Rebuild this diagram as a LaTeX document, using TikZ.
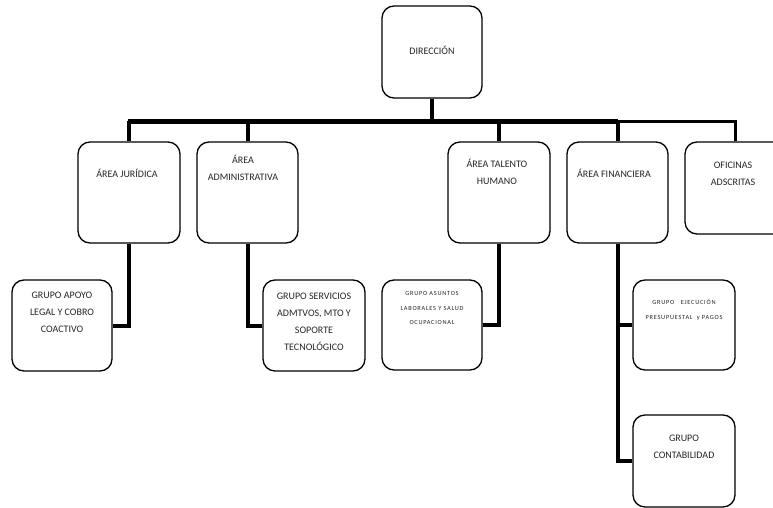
\documentclass[tikz,border=0pt]{standalone}
\usepackage{fontspec}
\setmainfont{Carlito}
\usetikzlibrary{calc}
\begin{document}
\begin{tikzpicture}[x=1pt,y=-1pt,
  box/.style={draw=black,line width=1.3pt,rounded corners=12pt,fill=white,inner sep=0pt},
  txt/.style={text=black!85,align=center,inner sep=0pt,font=\fontsize{10}{17}\selectfont},
  small/.style={text=black!85,align=center,inner sep=0pt,font=\fontsize{6.3}{14.5}\selectfont\addfontfeatures{LetterSpace=12}},
  conn/.style={draw=black,line width=4pt},
  busthick/.style={draw=black,line width=5pt},
  busthin/.style={draw=black,line width=3.5pt}]
\useasboundingbox (0,0) rectangle (773,508);
\clip (0,0) rectangle (773,508);
% coordinates of the bus
\coordinate (busL) at (128,121.5);
\coordinate (busM) at (618,121.5);
\coordinate (busR) at (737,121.5);
% boxes
\node[box,minimum width=100pt,minimum height=92pt] (dir) at (432,52) {};
\node[box,minimum width=102pt,minimum height=101pt] (jur) at (129,192.5) {};
\node[box,minimum width=101pt,minimum height=101pt] (adm) at (247.5,192.5) {};
\node[box,minimum width=102pt,minimum height=101pt] (tal) at (499,192.5) {};
\node[box,minimum width=101pt,minimum height=101pt] (fin) at (617.5,192.5) {};
\node[box,minimum width=101pt,minimum height=92pt] (ofi) at (735.5,188) {};
\node[box,minimum width=100pt,minimum height=91pt] (apo) at (62,325.5) {};
\node[box,minimum width=102pt,minimum height=91pt] (ser) at (314,325.5) {};
\node[box,minimum width=100pt,minimum height=90pt] (asu) at (432,325) {};
\node[box,minimum width=102pt,minimum height=90pt] (eje) at (684,325) {};
\node[box,minimum width=102pt,minimum height=92pt] (con) at (684,461) {};
% texts
\node[txt] (tdir) at (432,50) {DIRECCIÓN};
\node[txt] (tjur) at (127,173) {ÁREA JURÍDICA};
\node[txt] (tadm) at (243,168) {ÁREA\\ADMINISTRATIVA};
\node[txt] (ttal) at (497,171.5) {ÁREA TALENTO\\HUMANO};
\node[txt] (tfin) at (614,173) {ÁREA FINANCIERA};
\node[txt] (tofi) at (733,173.5) {OFICINAS\\ADSCRITAS};
\node[txt] (tapo) at (62,312) {GRUPO APOYO\\LEGAL Y COBRO\\COACTIVO};
\node[txt] (tser) at (314,321.5) {GRUPO SERVICIOS\\ADMTVOS, MTO Y\\SOPORTE\\TECNOLÓGICO};
\node[small] (tasu) at (432,308) {GRUPO ASUNTOS\\LABORALES Y SALUD\\OCUPACIONAL};
\node[small] (teje) at (684,310) {GRUPO \ \ EJECUCIÓN\\PRESUPUESTAL \ y PAGOS};
\node[txt] (tcon) at (684,446.5) {GRUPO\\CONTABILIDAD};
% bus
\draw[busthin] (busM) -- (busR);
\draw[busthick] (busL) -- (busM);
% connectors
\draw[conn] (dir.south) -- (dir.south |- busL);
\draw[conn] (jur.north) -- (jur.north |- busL);
\draw[conn] (adm.north) -- (adm.north |- busL);
\draw[conn] (tal.north) -- (tal.north |- busL);
\draw[conn] (fin.north) -- (fin.north |- busL);
\draw[busthin] (ofi.north) -- (ofi.north |- busR);
\draw[conn] (jur.south) |- (apo.east);
\draw[conn] (adm.south) |- (ser.west);
\draw[conn] (tal.south) |- (asu.east);
\draw[conn] (fin.south) |- (con.west);
\draw[conn] (fin.south |- eje.west) -- (eje.west);
\end{tikzpicture}
\end{document}
